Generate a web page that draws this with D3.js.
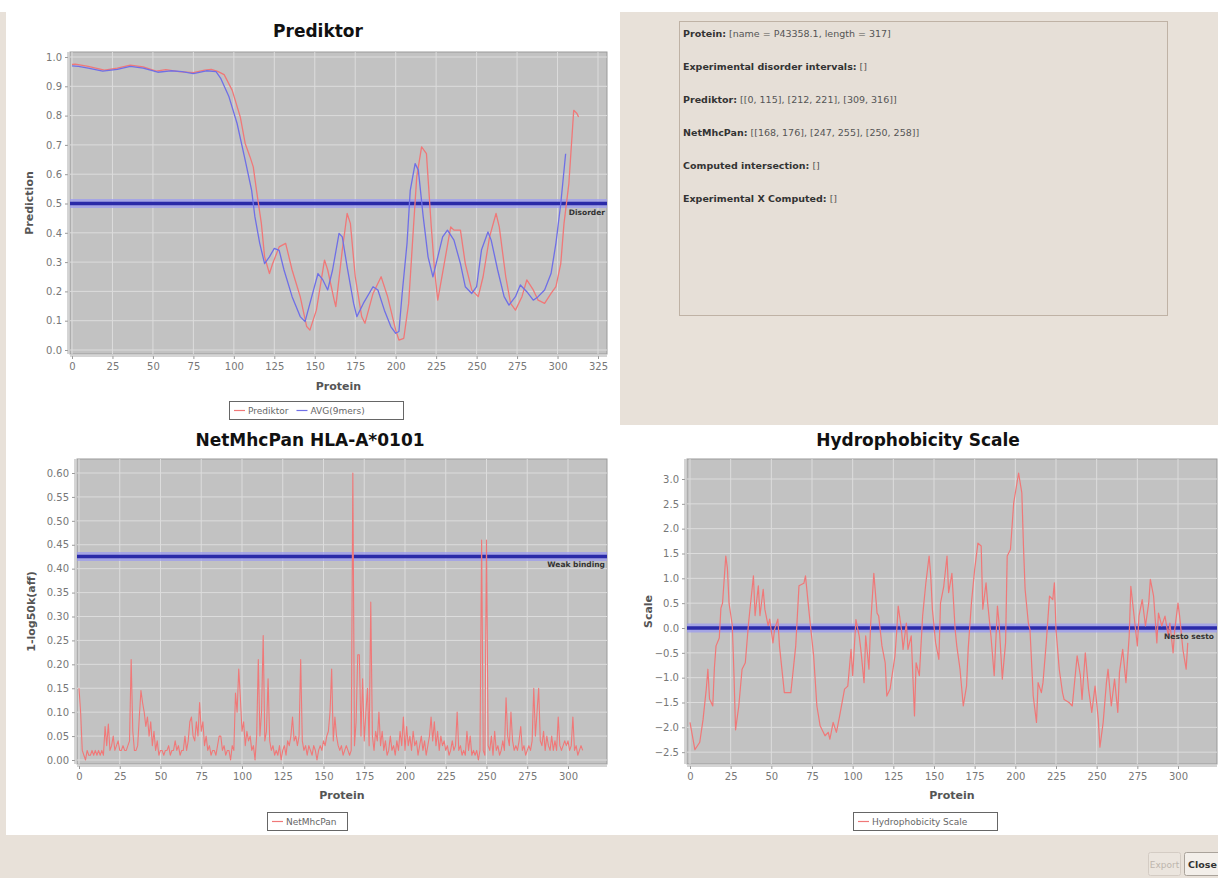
<!DOCTYPE html>
<html><head><meta charset="utf-8">
<script src="https://cdn.jsdelivr.net/npm/d3@7"></script>
<style>
html,body{margin:0;padding:0;background:#e8e1d9;}
svg{display:block;font-family:"DejaVu Sans",sans-serif;}
</style></head><body>
<svg id="c" width="1218" height="878"></svg>
<script>
// ---------------- DATA ----------------
// Prediktor (red) series: residue positions and predicted disorder
const predPos = [0,2,10,20,28,36,44,52,58,66,75,82,86,90,94,99,104,107,110,112,114,117,119,122,124,128,132,136,141,145,147,151,156,158,162,163,167,170,172,175,179,181,186,191,195,200,202,205,208,211,213,216,219,222,224,226,230,234,236,240,243,247,251,254,258,262,264,268,271,274,278,281,285,288,292,296,299,302,304,307,310,312,313];
const predVal = [0.975,0.976,0.968,0.955,0.962,0.972,0.966,0.952,0.957,0.950,0.947,0.955,0.958,0.951,0.940,0.886,0.795,0.705,0.659,0.625,0.545,0.432,0.318,0.261,0.295,0.352,0.364,0.273,0.182,0.080,0.068,0.136,0.307,0.273,0.170,0.148,0.341,0.466,0.432,0.250,0.114,0.091,0.193,0.250,0.182,0.068,0.034,0.040,0.159,0.420,0.591,0.693,0.670,0.420,0.273,0.170,0.295,0.420,0.409,0.409,0.295,0.205,0.182,0.250,0.386,0.466,0.420,0.250,0.159,0.136,0.182,0.239,0.205,0.170,0.159,0.193,0.216,0.295,0.432,0.568,0.818,0.807,0.795];
// AVG(9mers) (blue) series
const avgPos = [0,4,10,19,28,36,44,53,61,68,75,83,89,92,97,102,107,111,113,116,119,122,125,128,131,136,141,144,147,152,155,158,161,165,167,170,174,176,180,186,189,193,197,200,202,204,207,209,212,214,217,220,223,225,229,232,236,240,243,247,250,253,257,259,263,267,270,274,277,281,285,288,292,296,299,302,305];
const avgVal = [0.970,0.968,0.962,0.952,0.958,0.968,0.962,0.948,0.953,0.950,0.943,0.953,0.950,0.926,0.864,0.773,0.648,0.545,0.455,0.364,0.295,0.318,0.347,0.340,0.273,0.182,0.114,0.097,0.159,0.261,0.239,0.205,0.273,0.398,0.386,0.284,0.159,0.114,0.159,0.216,0.205,0.136,0.080,0.057,0.063,0.193,0.364,0.545,0.636,0.614,0.455,0.318,0.250,0.295,0.386,0.409,0.375,0.295,0.216,0.193,0.216,0.341,0.403,0.375,0.273,0.182,0.153,0.182,0.222,0.199,0.170,0.182,0.205,0.261,0.364,0.500,0.670];
// NetMhcPan 1-log50k(aff), one value per residue (index = residue)
const netVals = [
 0.15,0.10,0.02,0.01,0.00,0.02,0.01,0.01,0.02,0.01,
 0.02,0.01,0.02,0.01,0.02,0.01,0.07,0.03,0.075,0.02,
 0.03,0.05,0.02,0.03,0.04,0.02,0.02,0.03,0.02,0.02,
 0.03,0.04,0.21,0.06,0.02,0.02,0.03,0.09,0.145,0.12,
 0.10,0.07,0.09,0.05,0.08,0.03,0.06,0.02,0.04,0.01,
 0.02,0.02,0.01,0.02,0.02,0.03,0.01,0.02,0.02,0.04,
 0.02,0.03,0.01,0.02,0.02,0.05,0.02,0.04,0.08,0.09,
 0.05,0.04,0.08,0.05,0.12,0.06,0.08,0.03,0.05,0.02,
 0.03,0.01,0.02,0.02,0.01,0.03,0.05,0.05,0.02,0.03,
 0.01,0.02,0.02,0.00,0.03,0.02,0.14,0.10,0.19,0.13,
 0.06,0.08,0.03,0.06,0.04,0.05,0.02,0.03,0.00,0.05,
 0.21,0.05,0.10,0.26,0.04,0.06,0.17,0.04,0.02,0.03,
 0.01,0.02,0.01,0.03,0.00,0.02,0.03,0.01,0.04,0.03,
 0.05,0.09,0.04,0.05,0.03,0.05,0.21,0.04,0.02,0.03,
 0.01,0.03,0.02,0.01,0.03,0.02,0.00,0.02,0.03,0.02,
 0.04,0.03,0.05,0.06,0.10,0.19,0.04,0.09,0.05,0.03,
 0.02,0.03,0.01,0.02,0.03,0.02,0.01,0.02,0.60,0.03,
 0.08,0.22,0.22,0.05,0.17,0.04,0.10,0.15,0.03,0.33,
 0.05,0.02,0.06,0.04,0.10,0.03,0.06,0.02,0.04,0.01,
 0.02,0.05,0.02,0.03,0.01,0.04,0.02,0.06,0.03,0.09,
 0.02,0.07,0.03,0.05,0.02,0.06,0.03,0.04,0.01,0.03,
 0.05,0.02,0.04,0.01,0.03,0.05,0.09,0.04,0.08,0.03,
 0.06,0.02,0.05,0.03,0.04,0.02,0.03,0.01,0.02,0.04,
 0.02,0.03,0.10,0.02,0.03,0.01,0.02,0.01,0.06,0.02,
 0.05,0.01,0.02,0.01,0.02,0.00,0.02,0.46,0.02,0.01,
 0.46,0.03,0.02,0.05,0.01,0.06,0.02,0.03,0.01,0.02,
 0.04,0.02,0.13,0.05,0.03,0.10,0.04,0.02,0.03,0.02,
 0.04,0.07,0.02,0.03,0.01,0.02,0.03,0.02,0.04,0.15,
 0.05,0.10,0.15,0.04,0.03,0.06,0.02,0.05,0.03,0.02,
 0.05,0.02,0.04,0.02,0.09,0.03,0.02,0.03,0.04,0.03,
 0.04,0.02,0.03,0.09,0.02,0.03,0.01,0.02,0.03,0.02];
// Hydrophobicity scale: positions and values
const hydroPos = [0,3,5,6,8,10,11,12,14,15,16,18,19,20,22,23,24,26,27,28,30,32,34,36,39,40,42,43,45,46,48,49,51,52,54,55,58,60,62,65,67,70,71,73,76,78,80,83,85,86,88,90,92,95,97,99,100,102,104,105,107,108,110,111,113,115,116,118,120,121,123,126,127,128,130,131,133,134,136,138,139,141,143,145,147,148,149,151,153,154,156,158,159,161,163,164,166,168,170,171,173,175,177,179,180,182,183,185,187,189,190,192,194,195,197,199,201,202,204,205,206,208,209,211,213,214,216,217,219,221,223,224,225,227,229,230,233,235,238,240,241,243,245,247,249,251,252,254,256,257,259,261,263,264,266,268,270,271,273,275,276,278,280,282,283,285,287,288,290,292,294,295,297,298,300,301,303,305,306];
const hydroVal = [-1.9,-2.45,-2.35,-2.3,-1.85,-1.23,-0.83,-1.43,-1.57,-0.8,-0.36,-0.2,0.4,0.5,1.45,1.2,0.5,0.05,-0.9,-2.05,-1.57,-0.83,-0.7,0.1,1.05,0.25,0.85,0.25,0.78,0.38,0.05,0.18,-0.3,-0.03,0.18,-0.36,-1.3,-1.3,-1.3,-0.36,0.85,0.9,1.05,0.38,-0.56,-1.57,-1.97,-2.17,-2.1,-2.24,-1.9,-2.1,-1.77,-1.23,-1.17,-0.43,-0.96,0.17,-0.16,-0.43,-1.1,-0.16,-0.83,0.04,1.1,0.3,0.24,-0.36,-0.7,-1.37,-1.23,-0.56,-0.1,0.44,-0.03,-0.43,0.1,-0.43,-0.16,-1.77,-0.7,-0.96,0.24,0.91,1.45,1.05,0.38,-0.3,-0.63,0.5,0.84,1.45,0.71,1.1,-0.03,-0.36,-0.83,-1.57,-1.17,-0.43,0.5,1.18,1.71,1.65,0.38,0.91,0.5,-0.16,-0.96,0.44,0.1,-1.03,-0.3,1.45,1.58,2.52,2.92,3.12,2.72,1.65,0.78,0.1,-0.03,-1.37,-1.9,-1.1,-1.3,-1.1,-0.3,0.64,0.57,0.91,-0.03,-0.83,-1.3,-1.44,-1.5,-1.57,-0.56,-0.96,-1.44,-0.5,-1.23,-1.7,-1.17,-1.84,-2.4,-1.9,-1.1,-0.83,-1.57,-1.03,-1.7,-0.9,-0.43,-1.1,-0.16,0.84,0.24,-0.36,0.24,0.57,0.04,0.5,0.98,0.64,-0.3,0.3,0.04,0.24,-0.16,0.1,-0.5,-0.03,0.5,0.24,-0.43,-0.83,-0.3];

// tick labels
const topXTicks = [0,25,50,75,100,125,150,175,200,225,250,275,300,325];
const topYTicks = [0,0.1,0.2,0.3,0.4,0.5,0.6,0.7,0.8,0.9,1.0];
const botXTicks = [0,25,50,75,100,125,150,175,200,225,250,275,300];
const netYTicks = [0,0.05,0.10,0.15,0.20,0.25,0.30,0.35,0.40,0.45,0.50,0.55,0.60];
const hydroYTicks = [-2.5,-2.0,-1.5,-1.0,-0.5,0,0.5,1.0,1.5,2.0,2.5,3.0];

// thresholds
const predThreshold = 0.5, predThresholdLabel = "Disorder";
const netThreshold = 0.4256, netThresholdLabel = "Weak binding";
const hydroThreshold = 0.0, hydroThresholdLabel = "Nesto sesto";

// info panel text
const infoLabels = ["Protein:", "Experimental disorder intervals:", "Prediktor:", "NetMhcPan:", "Computed intersection:", "Experimental X Computed:"];
const infoValues = [" [name = P43358.1, length = 317]", " []", " [[0, 115], [212, 221], [309, 316]]", " [[168, 176], [247, 255], [250, 258]]", " []", " []"];

// ---------------- DRAW ----------------
const svg = d3.select("#c");
const RED = "#f07878", BLUE = "#6f6fe6";

// panels
svg.append("rect").attr("x",0).attr("y",0).attr("width",1218).attr("height",12).attr("fill","#ffffff");
svg.append("rect").attr("x",6).attr("y",12).attr("width",614).attr("height",414).attr("fill","#ffffff");
svg.append("rect").attr("x",6).attr("y",425).attr("width",1212).attr("height",410).attr("fill","#ffffff");
svg.append("rect").attr("x",679.5).attr("y",21.5).attr("width",488).attr("height",294)
  .attr("fill","#e6dfd7").attr("stroke","#bfb2a5");

// info text
const info = svg.append("g").attr("font-size","9.5px");
infoLabels.forEach((lab,i)=>{
  const t = info.append("text").attr("x",683).attr("y",37 + i*33);
  t.append("tspan").attr("font-weight","bold").attr("fill","#333").text(lab);
  t.append("tspan").attr("fill","#555").text(infoValues[i]);
});

function chart(cfg){
  const g = svg.append("g");
  const x = d3.scaleLinear().domain(cfg.xDom).range(cfg.xRange);
  const y = d3.scaleLinear().domain(cfg.yDom).range(cfg.yRange);
  const P = cfg.plot; // [left, top, right, bottom]
  const id = "clip" + cfg.name;
  svg.append("clipPath").attr("id", id).append("rect")
    .attr("x",P[0]).attr("y",P[1]).attr("width",P[2]-P[0]).attr("height",P[3]-P[1]);
  // title
  g.append("text").attr("x",cfg.titleX).attr("y",cfg.titleY).attr("text-anchor","middle")
    .attr("font-size","17px").attr("font-weight","bold").attr("fill","#111").text(cfg.title);
  // plot bg
  g.append("rect").attr("x",P[0]).attr("y",P[1]).attr("width",P[2]-P[0]).attr("height",P[3]-P[1])
    .attr("fill","#c2c2c2").attr("stroke","#9a9a9a");
  // grid
  const grid = g.append("g").attr("clip-path",`url(#${id})`);
  grid.selectAll(".gx").data(cfg.xTicks).join("line")
    .attr("x1",d=>x(d)).attr("x2",d=>x(d)).attr("y1",P[1]).attr("y2",P[3])
    .attr("stroke","#dcdcdc").attr("stroke-width",1);
  grid.selectAll(".gy").data(cfg.yTicks).join("line")
    .attr("y1",d=>y(d)).attr("y2",d=>y(d)).attr("x1",P[0]).attr("x2",P[2])
    .attr("stroke","#dcdcdc").attr("stroke-width",1);
  // axes
  const xAxis = d3.axisBottom(x).tickValues(cfg.xTicks).tickSize(3).tickPadding(4).tickFormat(d3.format("d"));
  const yAxis = d3.axisLeft(y).tickValues(cfg.yTicks).tickSize(3).tickPadding(3).tickFormat(d3.format(cfg.yFmt));
  const gx = g.append("g").attr("transform",`translate(0,${P[3]+2})`).call(xAxis);
  const gy = g.append("g").attr("transform",`translate(${P[0]-2},0)`).call(yAxis);
  [gx,gy].forEach(a=>{
    a.select(".domain").remove();
    a.selectAll("line").attr("stroke","#999");
    a.selectAll("text").attr("fill","#777").attr("font-size","10px").attr("font-family","DejaVu Sans, sans-serif");
  });
  g.append("line").attr("x1",P[0]).attr("x2",P[2]).attr("y1",P[3]+2).attr("y2",P[3]+2).attr("stroke","#aaa");
  g.append("line").attr("x1",P[0]-2).attr("x2",P[0]-2).attr("y1",P[1]).attr("y2",P[3]).attr("stroke","#aaa");
  // axis labels
  g.append("text").attr("x",(P[0]+P[2])/2).attr("y",cfg.xLabelY).attr("text-anchor","middle")
    .attr("font-size","11px").attr("font-weight","bold").attr("fill","#555").text("Protein");
  g.append("text").attr("transform",`translate(${cfg.yLabelX},${(P[1]+P[3])/2}) rotate(-90)`)
    .attr("text-anchor","middle").attr("font-size","11px").attr("font-weight","bold").attr("fill","#555").text(cfg.yLabel);
  // threshold marker
  const th = g.append("g").attr("clip-path",`url(#${id})`);
  th.append("line").attr("x1",P[0]).attr("x2",P[2]).attr("y1",y(cfg.th)).attr("y2",y(cfg.th))
    .attr("stroke","#9c9cf0").attr("stroke-width",9).attr("opacity",0.75);
  th.append("line").attr("x1",P[0]).attr("x2",P[2]).attr("y1",y(cfg.th)).attr("y2",y(cfg.th))
    .attr("stroke","#2a2aa8").attr("stroke-width",3.5);
  // series
  const lines = g.append("g").attr("clip-path",`url(#${id})`);
  cfg.series.forEach(s=>{
    const pts = s.pos.map((p,i)=>[p, s.val[i]]);
    lines.append("path").datum(pts)
      .attr("d", d3.line().x(d=>x(d[0])).y(d=>y(d[1])))
      .attr("fill","none").attr("stroke",s.color).attr("stroke-width",s.w||1.3).attr("stroke-linejoin","round");
  });
  // threshold label
  g.append("text").attr("x",cfg.thLabelX).attr("y",y(cfg.th)+11).attr("text-anchor","end")
    .attr("font-size","7.5px").attr("font-weight","bold").attr("fill","#333").text(cfg.thLabel);
  // legend
  const L = cfg.legend;
  const lg = g.append("g");
  lg.append("rect").attr("x",L.x+0.5).attr("y",L.y+0.5).attr("width",L.w).attr("height",18)
    .attr("fill","#fff").attr("stroke","#666");
  let cx = L.x + 5;
  cfg.series.forEach(s=>{
    lg.append("line").attr("x1",cx).attr("x2",cx+11).attr("y1",L.y+9.5).attr("y2",L.y+9.5).attr("stroke",s.color).attr("stroke-width",1.2);
    const t = lg.append("text").attr("x",cx+14).attr("y",L.y+13).attr("font-size","9px").attr("fill","#666").text(s.name);
    cx += 14 + t.node().getComputedTextLength() + 8;
  });
}

chart({
  name:"pred", title:"Prediktor", titleX:318, titleY:37,
  xDom:[0,325], xRange:[72,598], yDom:[0,1], yRange:[350,57],
  plot:[70,52,607,354], xTicks:topXTicks, yTicks:topYTicks, yFmt:".1f",
  xLabelY:390, yLabel:"Prediction", yLabelX:33,
  th:predThreshold, thLabel:predThresholdLabel, thLabelX:605,
  series:[
    {name:"Prediktor", pos:predPos, val:predVal, color:RED},
    {name:"AVG(9mers)", pos:avgPos, val:avgVal, color:BLUE}
  ],
  legend:{x:229, y:401, w:174}
});

chart({
  name:"net", title:"NetMhcPan HLA-A*0101", titleX:310, titleY:446,
  xDom:[0,300], xRange:[79,568], yDom:[0,0.6], yRange:[760,473],
  plot:[77,459,607,764], xTicks:botXTicks, yTicks:netYTicks, yFmt:".2f",
  xLabelY:799, yLabel:"1-log50k(aff)", yLabelX:35,
  th:netThreshold, thLabel:netThresholdLabel, thLabelX:605,
  series:[{name:"NetMhcPan", pos:netVals.map((v,i)=>i), val:netVals, color:RED, w:1.1}],
  legend:{x:267, y:812, w:80}
});

chart({
  name:"hydro", title:"Hydrophobicity Scale", titleX:918, titleY:446,
  xDom:[0,300], xRange:[690,1178], yDom:[0,3], yRange:[628,479],
  plot:[687,459,1217,764], xTicks:botXTicks, yTicks:hydroYTicks, yFmt:".1f",
  xLabelY:799, yLabel:"Scale", yLabelX:652,
  th:hydroThreshold, thLabel:hydroThresholdLabel, thLabelX:1214,
  series:[{name:"Hydrophobicity Scale", pos:hydroPos, val:hydroVal, color:RED, w:1.2}],
  legend:{x:853, y:812, w:144}
});

// bottom buttons
const btn = svg.append("g");
btn.append("rect").attr("x",1148.5).attr("y",852.5).attr("width",32).attr("height",23).attr("fill","#ebe5de").attr("stroke","#d4ccc4").attr("rx",2);
btn.append("text").attr("x",1164.5).attr("y",868).attr("text-anchor","middle").attr("font-size","9px").attr("fill","#bdb5ad").text("Export");
btn.append("rect").attr("x",1184.5).attr("y",852.5).attr("width",40).attr("height",23).attr("fill","#f3efea").attr("stroke","#aaa39b").attr("rx",2);
btn.append("text").attr("x",1188).attr("y",868).attr("font-size","9.5px").attr("font-weight","bold").attr("fill","#333").text("Close");
</script>
</body></html>
